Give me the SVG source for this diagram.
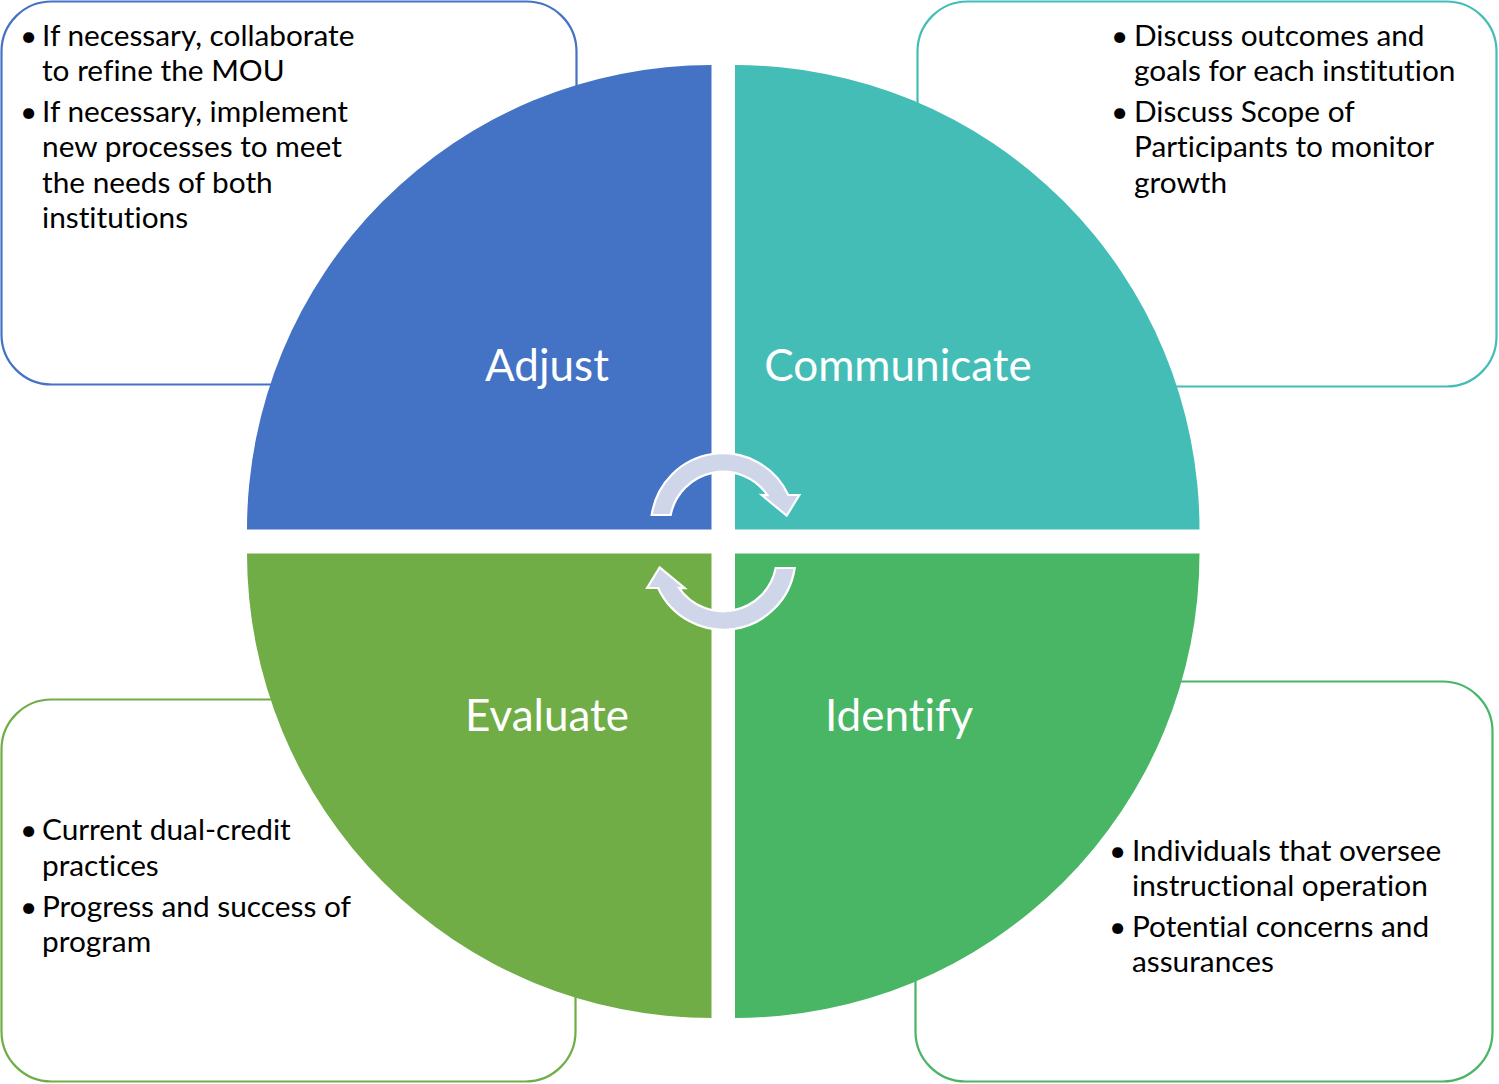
<svg xmlns="http://www.w3.org/2000/svg" width="1499" height="1084" viewBox="0 0 1499 1084">
  <style>
    .box { fill: #ffffff; stroke-width: 2.2; }
    .body { font-family: Lato, "Liberation Sans", sans-serif; font-size: 29.8px; fill: #000000; font-variant-ligatures: none; }
    .label { font-family: Lato, "Liberation Sans", sans-serif; font-size: 44px; fill: #ffffff; text-anchor: middle; font-variant-ligatures: none; }
    .cycle { fill: #d0d6ea; stroke: #ffffff; stroke-width: 2.2; stroke-linejoin: miter; }
  </style>
  <rect width="1499" height="1084" fill="#ffffff"/>

  <!-- Detail panels (drawn first, quadrants overlap them) -->
  <g id="adjust-notes">
    <rect class="box" x="1.5" y="1.5" width="575" height="383" rx="50" stroke="#4472c4"/>
    <text class="body"><tspan x="20" y="46">•</tspan><tspan x="42" y="46">If necessary, collaborate</tspan></text>
    <text class="body"><tspan x="42" y="81">to refine the MOU</tspan></text>
    <text class="body"><tspan x="20" y="122">•</tspan><tspan x="42" y="122">If necessary, implement</tspan></text>
    <text class="body"><tspan x="42" y="157">new processes to meet</tspan></text>
    <text class="body"><tspan x="42" y="193">the needs of both</tspan></text>
    <text class="body"><tspan x="42" y="228">institutions</tspan></text>
  </g>

  <g id="communicate-notes">
    <rect class="box" x="917.5" y="1.5" width="579" height="385" rx="50" stroke="#45bdb7"/>
    <text class="body"><tspan x="1111" y="46">•</tspan><tspan x="1134" y="46">Discuss outcomes and</tspan></text>
    <text class="body"><tspan x="1134" y="81">goals for each institution</tspan></text>
    <text class="body"><tspan x="1111" y="122">•</tspan><tspan x="1134" y="122">Discuss Scope of</tspan></text>
    <text class="body"><tspan x="1134" y="157">Participants to monitor</tspan></text>
    <text class="body"><tspan x="1134" y="193">growth</tspan></text>
  </g>

  <g id="evaluate-notes">
    <rect class="box" x="1.5" y="699.5" width="574" height="382" rx="50" stroke="#70ad47"/>
    <text class="body"><tspan x="20" y="840">•</tspan><tspan x="42" y="840">Current dual-credit</tspan></text>
    <text class="body"><tspan x="42" y="876">practices</tspan></text>
    <text class="body"><tspan x="20" y="917">•</tspan><tspan x="42" y="917">Progress and success of</tspan></text>
    <text class="body"><tspan x="42" y="952">program</tspan></text>
  </g>

  <g id="identify-notes">
    <rect class="box" x="915.5" y="681.5" width="577" height="400" rx="50" stroke="#48b665"/>
    <text class="body"><tspan x="1109" y="861">•</tspan><tspan x="1132" y="861">Individuals that oversee</tspan></text>
    <text class="body"><tspan x="1132" y="896">instructional operation</tspan></text>
    <text class="body"><tspan x="1109" y="937">•</tspan><tspan x="1132" y="937">Potential concerns and</tspan></text>
    <text class="body"><tspan x="1132" y="972">assurances</tspan></text>
  </g>

  <!-- Four quadrants of the cycle -->
  <g id="adjust">
    <path d="M711.5 529.5 L247 529.5 A464.5 464.5 0 0 1 711.5 65 Z" fill="#4472c4"/>
    <text class="label" x="547" y="381">Adjust</text>
  </g>
  <g id="communicate">
    <path d="M735 529.5 L735 65 A464.5 464.5 0 0 1 1199.5 529.5 Z" fill="#45bdb7"/>
    <text class="label" x="898" y="381">Communicate</text>
  </g>
  <g id="identify">
    <path d="M735 553.5 L1199.5 553.5 A464.5 464.5 0 0 1 735 1018 Z" fill="#48b665"/>
    <text class="label" x="899" y="731">Identify</text>
  </g>
  <g id="evaluate">
    <path d="M711.5 553.5 L711.5 1018 A464.5 464.5 0 0 1 247 553.5 Z" fill="#70ad47"/>
    <text class="label" x="547" y="731">Evaluate</text>
  </g>

  <!-- Circular arrows at the hub -->
  <g id="connectors">
    <path id="cycle-arrow" class="cycle" d="M651.7 515 A72 72 0 0 1 788.3 495 L799.3 495 L786.7 515.7 L761.7 495 L767.4 495.1 A53.5 53.5 0 0 0 670.7 515 Z"/>
    <use href="#cycle-arrow" transform="rotate(180 723.2 541.5)"/>
  </g>
</svg>
